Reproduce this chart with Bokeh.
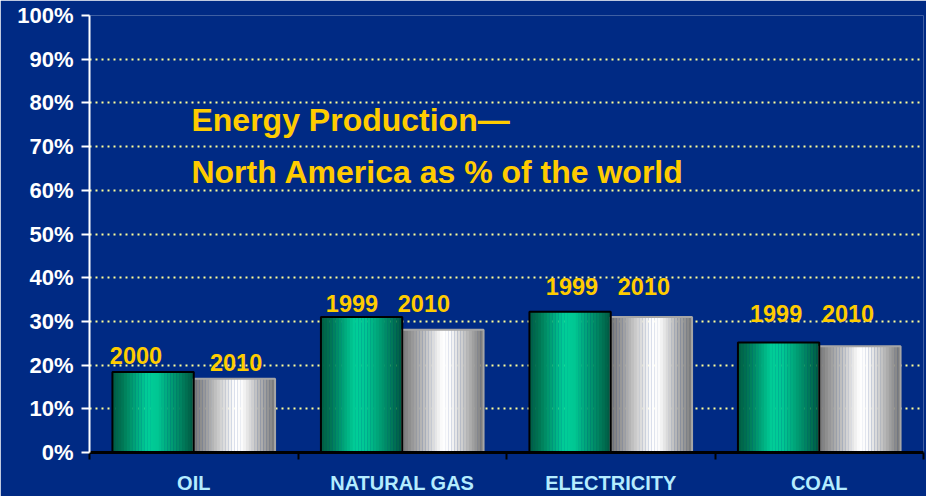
from bokeh.plotting import figure
from bokeh.models import ColumnDataSource, Range1d, FixedTicker, PrintfTickFormatter, Label
from bokeh.core.properties import value
from bokeh.embed import file_html
from bokeh.resources import INLINE

# ---------------- data ----------------
categories = ["OIL", "NATURAL GAS", "ELECTRICITY", "COAL"]
first_year = ["2000", "1999", "1999", "1999"]
second_year = ["2010", "2010", "2010", "2010"]
share_first = [18.4, 31.0, 32.2, 25.2]     # % of world, earlier year
share_second = [16.9, 28.1, 31.0, 24.3]    # % of world, 2010
y_ticks = [0, 10, 20, 30, 40, 50, 60, 70, 80, 90, 100]
title_lines = ["Energy Production\u2014", "North America as % of the world"]

# annotation placement (year labels, vertical centres), in axis units
first_label_dx = [-0.277, -0.241, -0.186, -0.207]
second_label_dx = [0.203, 0.104, 0.159, 0.138]
first_label_y = [22.3, 34.2, 37.9, 31.9]
second_label_y = [20.6, 34.2, 37.9, 31.9]
title_x = 0.489
title_y = [76.1, 64.3]

# ---------------- style ----------------
NAVY = "#002a84"
GOLD = "#ffcc00"
FONT = "Liberation Sans"
BAR_W = 0.39
OFFSET = 0.195
N_STRIPS = 28

green_stops = [(0.0, (0, 92, 66)), (0.12, (0, 118, 84)), (0.42, (0, 206, 152)),
               (0.55, (0, 200, 148)), (0.85, (0, 128, 94)), (1.0, (0, 88, 64))]
gray_stops = [(0.0, (118, 118, 118)), (0.2, (172, 172, 172)), (0.5, (255, 255, 255)),
              (0.6, (250, 250, 250)), (0.85, (168, 168, 168)), (1.0, (122, 122, 122))]


def interp(stops, t):
    for (t0, c0), (t1, c1) in zip(stops[:-1], stops[1:]):
        if t0 <= t <= t1:
            f = (t - t0) / (t1 - t0) if t1 > t0 else 0
            c = [round(a + (b - a) * f) for a, b in zip(c0, c1)]
            return "#%02x%02x%02x" % tuple(c)
    return "#%02x%02x%02x" % stops[-1][1]


def strips(values, offset, stops):
    xs, tops, cols = [], [], []
    for i, v in enumerate(values):
        center = i + 0.5 + offset
        for k in range(N_STRIPS):
            t = (k + 0.5) / N_STRIPS
            xs.append(center - BAR_W / 2 + t * BAR_W)
            tops.append(v)
            cols.append(interp(stops, t))
    return ColumnDataSource(dict(x=xs, top=tops, color=cols))


p = figure(width=926, height=496,
           x_range=Range1d(0, 4), y_range=Range1d(0, 100),
           output_backend="svg", toolbar_location=None,
           min_border_left=89, min_border_right=3, min_border_top=15, min_border_bottom=44,
           background_fill_color=NAVY, border_fill_color=NAVY, outline_line_color=None)

# gradient bars
p.vbar(x="x", top="top", bottom=0, width=BAR_W / N_STRIPS * 1.08, fill_color="color",
       line_color=None, source=strips(share_first, -OFFSET, green_stops))
p.vbar(x="x", top="top", bottom=0, width=BAR_W / N_STRIPS * 1.08, fill_color="color",
       line_color=None, source=strips(share_second, OFFSET, gray_stops))

centers = [i + 0.5 for i in range(len(categories))]
p.vbar(x=[c + OFFSET for c in centers], top=share_second, bottom=0, width=BAR_W,
       fill_color=None, line_color="#a6a6a6", line_width=2)
p.vbar(x=[c - OFFSET for c in centers], top=share_first, bottom=0, width=BAR_W,
       fill_color=None, line_color="black", line_width=2)

# year labels
p.text(x=[c + d for c, d in zip(centers, first_label_dx)], y=first_label_y, text=first_year,
       text_align="center", text_baseline="middle", text_color=GOLD,
       text_font=value(FONT), text_font_style="bold", text_font_size="23.5px")
p.text(x=[c + d for c, d in zip(centers, second_label_dx)], y=second_label_y, text=second_year,
       text_align="center", text_baseline="middle", text_color=GOLD,
       text_font=value(FONT), text_font_style="bold", text_font_size="23.5px")

# title
for txt, yy in zip(title_lines, title_y):
    p.add_layout(Label(x=title_x, y=yy, text=txt, text_color=GOLD,
                       text_font=FONT, text_font_style="bold",
                       text_font_size="32px", text_baseline="middle"))

# grid
p.xgrid.visible = False
p.ygrid.ticker = FixedTicker(ticks=y_ticks[1:])
p.ygrid.grid_line_color = "#ffff99"
p.ygrid.grid_line_dash = "2 4"
p.ygrid.grid_line_width = 2

# y axis
ya = p.yaxis[0]
ya.ticker = FixedTicker(ticks=y_ticks)
ya.formatter = PrintfTickFormatter(format="%d%%")
ya.axis_line_color = "white"
ya.axis_line_width = 2
ya.major_tick_line_color = "white"
ya.major_tick_line_width = 2
ya.major_tick_out = 8
ya.major_tick_in = 0
ya.minor_tick_line_color = None
ya.major_label_standoff = 8
ya.major_label_text_color = "white"
ya.major_label_text_font = FONT
ya.major_label_text_font_style = "bold"
ya.major_label_text_font_size = "22px"

# x axis
xa = p.xaxis[0]
xa.ticker = FixedTicker(ticks=centers, minor_ticks=list(range(len(categories) + 1)))
xa.major_label_overrides = {c: name for c, name in zip(centers, categories)}
xa.axis_line_color = "black"
xa.axis_line_width = 3
xa.major_tick_line_color = None
xa.minor_tick_line_color = "black"
xa.minor_tick_line_width = 2
xa.minor_tick_out = 7
xa.minor_tick_in = 0
xa.major_label_standoff = 12
xa.major_label_text_color = "#b4ecff"
xa.major_label_text_font = FONT
xa.major_label_text_font_style = "bold"
xa.major_label_text_font_size = "20px"

open("out.html", "w").write(file_html(p, INLINE))
